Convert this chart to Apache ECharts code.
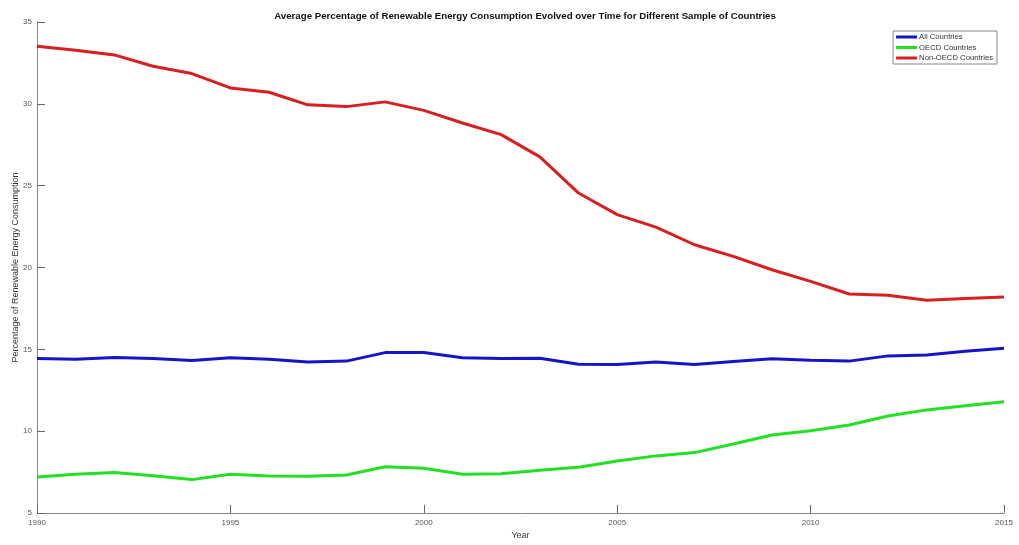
<!DOCTYPE html>
<html>
<head>
<meta charset="utf-8">
<script src="https://cdn.jsdelivr.net/npm/echarts@6/dist/echarts.min.js"></script>
<style>html,body{margin:0;padding:0;background:#fff}#c{width:1019px;height:545px}</style>
</head>
<body>
<div id="c"></div>
<script>
const years = [1990,1991,1992,1993,1994,1995,1996,1997,1998,1999,2000,2001,2002,2003,2004,2005,2006,2007,2008,2009,2010,2011,2012,2013,2014,2015];
const allCountries = [14.44,14.40,14.50,14.44,14.32,14.48,14.40,14.22,14.28,14.80,14.80,14.48,14.44,14.46,14.09,14.07,14.22,14.07,14.25,14.42,14.34,14.28,14.60,14.66,14.89,15.07];
const oecdCountries = [7.20,7.37,7.47,7.28,7.04,7.37,7.26,7.24,7.32,7.83,7.73,7.37,7.40,7.61,7.80,8.18,8.49,8.69,9.22,9.77,10.02,10.38,10.93,11.30,11.56,11.80];
const nonOecdCountries = [33.52,33.28,32.99,32.30,31.85,30.97,30.71,29.94,29.83,30.12,29.60,28.83,28.12,26.76,24.55,23.23,22.47,21.39,20.68,19.86,19.15,18.38,18.31,18.00,18.10,18.19];
const seriesNames = ['All Countries','OECD Countries','Non-OECD Countries'];
const yTicks = [5,10,15,20,25,30,35];
const xTicks = [1990,1995,2000,2005,2010,2015];

const font = 'Liberation Sans, Arial, sans-serif';
const pairs = arr => years.map((y,i)=>[y,arr[i]]);
const colors = ['#1414c8','#22e022','#d81e1e'];
const chart = echarts.init(document.getElementById('c'), null, {renderer:'canvas'});
const mk = (name, arr, color) => ({
  name, type:'line', data: pairs(arr), showSymbol:false, symbol:'none',
  lineStyle:{width:3, color}, itemStyle:{color}, smooth:false
});
chart.setOption({
  animation:false,
  backgroundColor:'#ffffff',
  title:{
    text:'Average Percentage of Renewable Energy Consumption Evolved over Time for Different Sample of Countries',
    left:520, textAlign:'center', top:6,
    textStyle:{fontFamily:font, fontSize:9.7, fontWeight:'bold', color:'#111'}
  },
  legend:{
    right:22, top:31, orient:'vertical', itemGap:2.5, itemWidth:21, itemHeight:3,
    icon:'rect', padding:[2,4,2,3], borderColor:'#888', borderWidth:1, backgroundColor:'#fff',
    textStyle:{fontFamily:font, fontSize:7.7, color:'#333', padding:[0,0,0,-3]},
    data: seriesNames
  },
  grid:{left:37, right:15, top:22, bottom:32, containLabel:false, outerBoundsMode:'none'},
  xAxis:{
    type:'value', min:1990, max:2015, interval:5,
    name:'Year', nameLocation:'middle', nameGap:18, nameMoveOverlap:false,
    nameTextStyle:{fontFamily:font, fontSize:9, color:'#333'},
    axisLine:{show:true, lineStyle:{color:'#888', width:1}},
    axisTick:{show:true, inside:true, length:8, lineStyle:{color:'#666'}},
    axisLabel:{fontFamily:font, fontSize:8, color:'#555', margin:6, formatter:v=>String(v)},
    splitLine:{show:false}
  },
  yAxis:{
    type:'value', min:5, max:35, interval:5,
    name:'Percentage of Renewable Energy Consumption', nameLocation:'middle', nameGap:17, nameRotate:90, nameMoveOverlap:false,
    nameTextStyle:{fontFamily:font, fontSize:9, color:'#333'},
    axisLine:{show:true, lineStyle:{color:'#888', width:1}},
    axisTick:{show:true, inside:true, length:8, lineStyle:{color:'#666'}},
    axisLabel:{fontFamily:font, fontSize:8, color:'#555', margin:5},
    splitLine:{show:false}
  },
  series:[
    mk(seriesNames[0], allCountries, colors[0]),
    mk(seriesNames[1], oecdCountries, colors[1]),
    mk(seriesNames[2], nonOecdCountries, colors[2])
  ]
});
</script>
</body>
</html>
